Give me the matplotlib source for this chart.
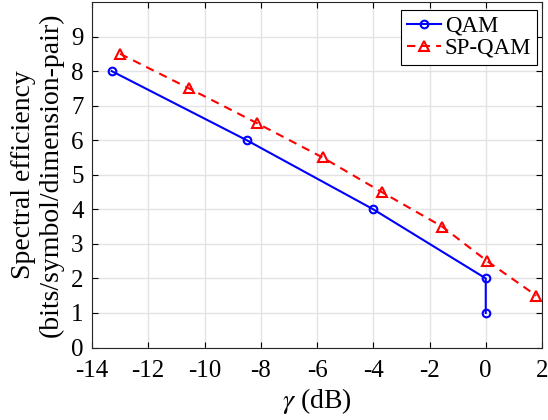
import matplotlib.pyplot as plt

# data
qam_gamma = [-13.3, -8.5, -4.0, 0.0, 0.0]
qam_se = [8, 6, 4, 2, 1]

spqam_gamma = [-13.0, -10.55, -8.15, -5.8, -3.7, -1.55, 0.05, 1.8]
spqam_se = [8.5, 7.5, 6.5, 5.5, 4.5, 3.5, 2.5, 1.5]

x_ticks = [-14, -12, -10, -8, -6, -4, -2, 0, 2]
y_ticks = list(range(0, 10))

plt.rcParams['font.family'] = ['Liberation Serif', 'DejaVu Serif']
plt.rcParams['mathtext.fontset'] = 'stix'
plt.rcParams['axes.unicode_minus'] = False

fig = plt.figure(figsize=(5.48, 4.2), dpi=100)
ax = fig.add_axes([92 / 548, 1 - 347.5 / 420, 450 / 548, 345.5 / 420])

ax.plot(qam_gamma, qam_se, color='blue', linestyle='-', linewidth=1.5,
        marker='o', markersize=5.5, markerfacecolor='none', markeredgewidth=1.5,
        label='QAM')
ax.plot(spqam_gamma, spqam_se, color='red', linestyle=(0, (4, 3)), linewidth=1.5,
        marker='^', markersize=7, markerfacecolor='none', markeredgewidth=1.5,
        label='SP-QAM')

ax.set_xlim(-14, 2)
ax.set_ylim(0, 10)
ax.set_xticks(x_ticks)
ax.set_yticks(y_ticks)

ax.grid(True, color='#e3e3e3', linewidth=1.0)
ax.set_axisbelow(True)
ax.tick_params(direction='in', length=4, width=0.8, top=True, right=True,
               labelsize=18)
ax.tick_params(axis='x', pad=9)
ax.tick_params(axis='y', pad=6)
for s in ax.spines.values():
    s.set_linewidth(0.8)
    s.set_color('#262626')

ax.set_xlabel(r'$\gamma$ (dB)', fontsize=20, labelpad=3)
ax.set_ylabel('Spectral efficiency\n(bits/symbol/dimension-pair)', fontsize=20,
              labelpad=5, linespacing=1.15)

leg = ax.legend(loc='upper right', bbox_to_anchor=(537 / 548, 1 - 10 / 420),
                bbox_transform=fig.transFigure, borderaxespad=0,
                fancybox=False, edgecolor='black',
                framealpha=1, fontsize=16.5, handlelength=1.5,
                borderpad=0.25, labelspacing=0.05, handletextpad=0.15)
leg.get_frame().set_linewidth(0.8)

fig.savefig('out.png', dpi=100)
